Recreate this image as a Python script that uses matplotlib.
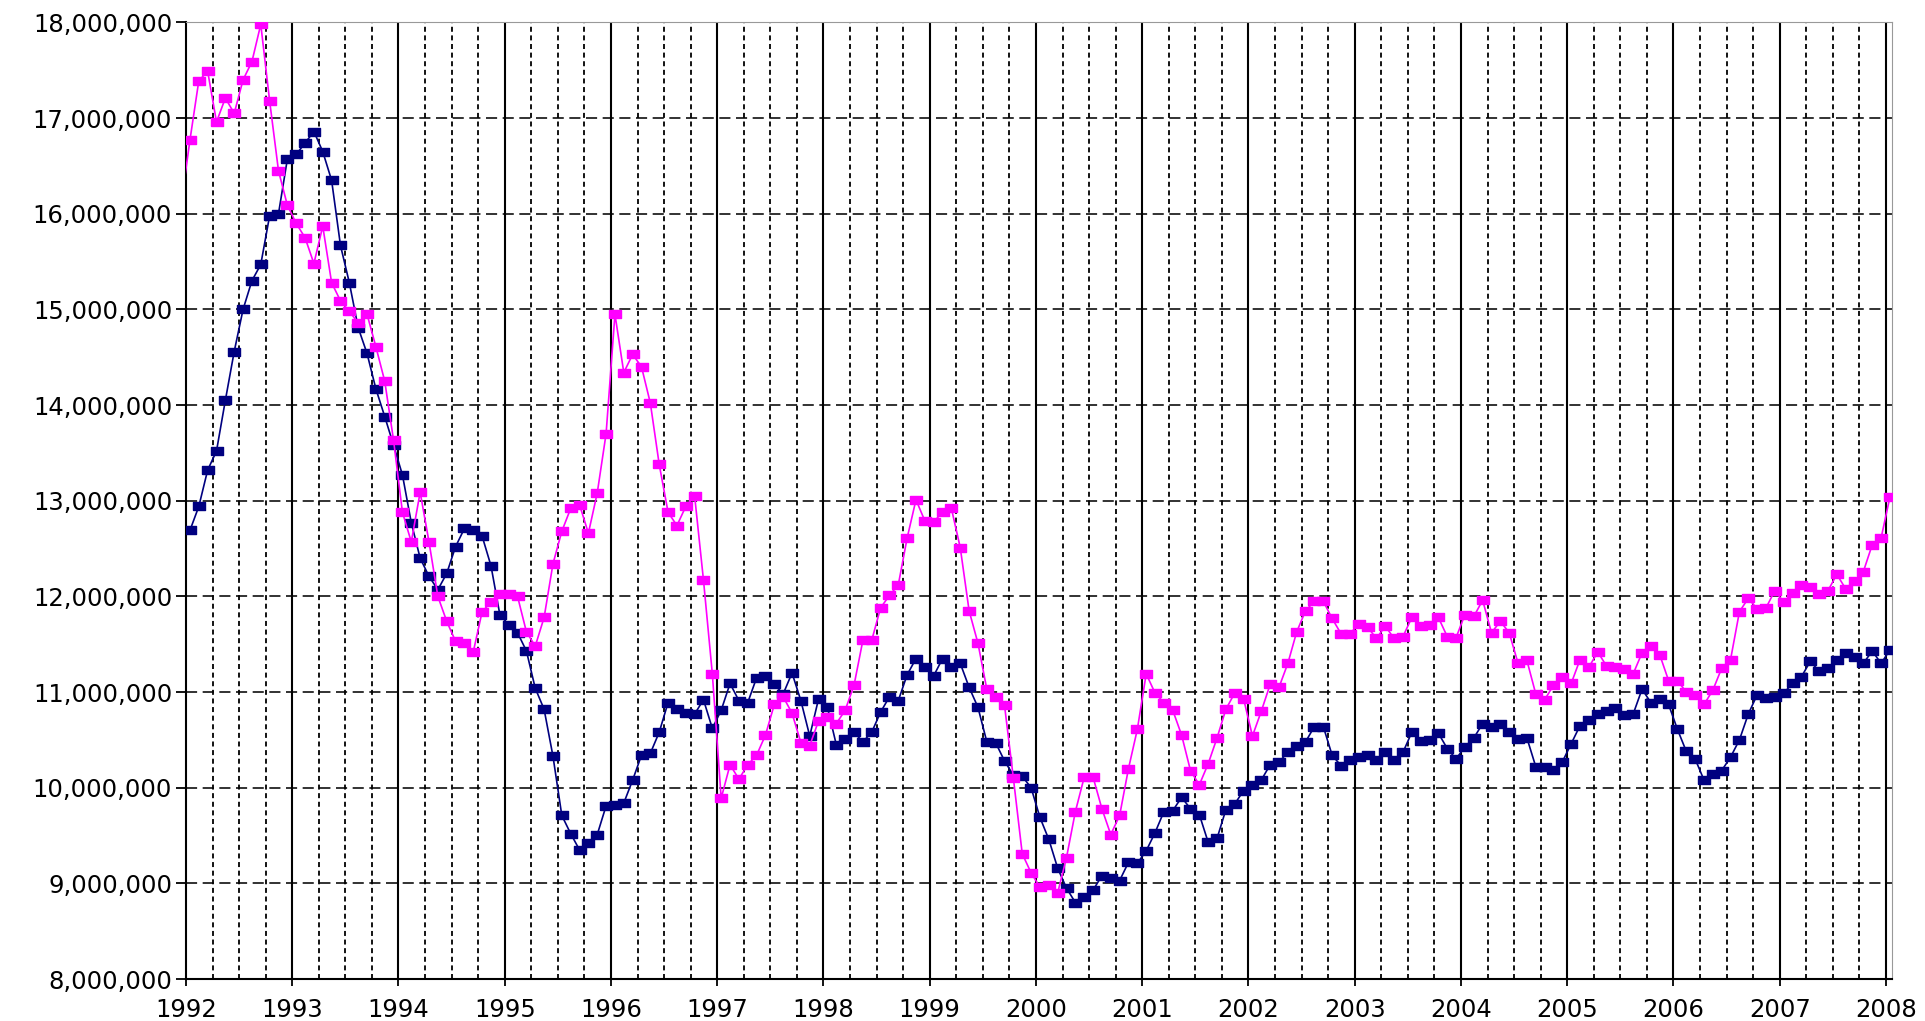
import matplotlib.pyplot as plt
import numpy as np

plt.rcParams["lines.scale_dashes"] = False

# monthly values in millions, Dec 1991 .. Jan 2008
navy_values = [
    12.62,
    12.69, 12.94, 13.32, 13.52, 14.05, 14.56, 15.00, 15.30, 15.47, 15.98, 16.00, 16.57,
    16.62, 16.74, 16.86, 16.65, 16.35, 15.67, 15.28, 14.81, 14.54, 14.17, 13.88, 13.58,
    13.27, 12.77, 12.40, 12.21, 12.07, 12.24, 12.52, 12.71, 12.69, 12.63, 12.32, 11.81,
    11.70, 11.62, 11.43, 11.04, 10.82, 10.33, 9.71, 9.52, 9.35, 9.42, 9.51, 9.81,
    9.82, 9.84, 10.08, 10.34, 10.36, 10.58, 10.89, 10.82, 10.78, 10.77, 10.92, 10.62,
    10.81, 11.09, 10.91, 10.89, 11.15, 11.17, 11.08, 10.98, 11.20, 10.91, 10.54, 10.93,
    10.84, 10.45, 10.51, 10.58, 10.48, 10.58, 10.79, 10.95, 10.91, 11.18, 11.35, 11.26,
    11.17, 11.35, 11.26, 11.30, 11.05, 10.84, 10.48, 10.47, 10.28, 10.13, 10.12, 10.00,
    9.69, 9.46, 9.16, 8.95, 8.80, 8.86, 8.93, 9.08, 9.06, 9.03, 9.22, 9.21,
    9.34, 9.53, 9.75, 9.76, 9.90, 9.78, 9.72, 9.43, 9.47, 9.77, 9.83, 9.97,
    10.03, 10.08, 10.24, 10.27, 10.37, 10.44, 10.48, 10.64, 10.64, 10.34, 10.23, 10.29,
    10.32, 10.34, 10.29, 10.37, 10.29, 10.37, 10.58, 10.49, 10.50, 10.57, 10.41, 10.30,
    10.43, 10.52, 10.67, 10.64, 10.67, 10.58, 10.51, 10.52, 10.22, 10.22, 10.19, 10.27,
    10.46, 10.65, 10.71, 10.77, 10.80, 10.83, 10.76, 10.77, 11.03, 10.89, 10.93, 10.87,
    10.61, 10.38, 10.30, 10.08, 10.14, 10.18, 10.32, 10.50, 10.77, 10.97, 10.94, 10.95,
    10.99, 11.09, 11.16, 11.32, 11.22, 11.25, 11.34, 11.41, 11.37, 11.30, 11.43, 11.30,
    11.44,
]

magenta_values = [
    16.10,
    16.77, 17.39, 17.49, 16.96, 17.21, 17.05, 17.40, 17.59, 17.98, 17.18, 16.45, 16.09,
    15.90, 15.75, 15.48, 15.87, 15.28, 15.09, 14.98, 14.86, 14.95, 14.61, 14.25, 13.63,
    12.88, 12.57, 13.09, 12.57, 12.00, 11.74, 11.53, 11.51, 11.42, 11.84, 11.94, 12.02,
    12.02, 12.00, 11.63, 11.48, 11.78, 12.34, 12.68, 12.92, 12.96, 12.66, 13.08, 13.70,
    14.95, 14.34, 14.53, 14.40, 14.02, 13.38, 12.88, 12.74, 12.94, 13.05, 12.17, 11.19,
    9.89, 10.24, 10.09, 10.24, 10.34, 10.55, 10.87, 10.95, 10.78, 10.47, 10.44, 10.70,
    10.74, 10.67, 10.81, 11.07, 11.54, 11.54, 11.88, 12.01, 12.12, 12.61, 13.01, 12.79,
    12.78, 12.88, 12.92, 12.51, 11.85, 11.51, 11.03, 10.95, 10.86, 10.10, 9.31, 9.11,
    8.96, 8.98, 8.90, 9.27, 9.75, 10.11, 10.11, 9.78, 9.51, 9.71, 10.20, 10.61,
    11.19, 10.99, 10.89, 10.81, 10.55, 10.18, 10.03, 10.25, 10.52, 10.82, 10.99, 10.93,
    10.54, 10.80, 11.08, 11.05, 11.30, 11.63, 11.85, 11.95, 11.95, 11.77, 11.61, 11.61,
    11.71, 11.68, 11.56, 11.69, 11.56, 11.58, 11.78, 11.69, 11.70, 11.78, 11.58, 11.57,
    11.81, 11.79, 11.96, 11.62, 11.74, 11.62, 11.30, 11.33, 10.98, 10.92, 11.07, 11.16,
    11.09, 11.34, 11.26, 11.42, 11.27, 11.26, 11.24, 11.19, 11.41, 11.48, 11.39, 11.12,
    11.12, 11.00, 10.97, 10.87, 11.02, 11.25, 11.34, 11.84, 11.98, 11.87, 11.88, 12.06,
    11.94, 12.04, 12.12, 12.10, 12.02, 12.06, 12.23, 12.08, 12.16, 12.26, 12.54, 12.61,
    13.04,
]

years = list(range(1992, 2009))
y_ticks = list(range(8000000, 18000001, 1000000))

# month index -1 is Dec 1991, points sit mid-month
months = np.arange(-1, len(navy_values) - 1)
x = 1992 + (months + 0.45) / 12

fig = plt.figure(figsize=(19.25, 10.21), dpi=100)
ax = fig.add_axes([0.0966, 0.0411, 0.8861, 0.9369])
ax.set_xlim(1992, 2008.054)
ax.set_ylim(8000000, 18000000)

# grid: dashed millions, solid years, dashed quarters
for v in y_ticks[1:-1]:
    ax.axhline(v, color="#222222", lw=1.3, dashes=(8, 4), zorder=1)
for yr in years[1:]:
    ax.axvline(yr, color="black", lw=1.5, zorder=1)
for yr in years[:-1]:
    for q in (0.25, 0.5, 0.75):
        ax.axvline(yr + q, color="black", lw=1.3, dashes=(3.6, 2.6), zorder=1)

rect = [(-1, -0.8), (1, -0.8), (1, 0.8), (-1, 0.8), (-1, -0.8)]
navy = np.array(navy_values) * 1e6
magenta = np.array(magenta_values) * 1e6
ax.plot(x, navy, color="#000080", lw=1.2, marker=rect, markersize=8,
        markevery=slice(1, None), zorder=3)
ax.plot(x, magenta, color="#FF00FF", lw=1.2, marker=rect, markersize=8,
        markevery=slice(1, None), zorder=4)

ax.set_xticks(years)
ax.set_xticklabels([str(y) for y in years])
ax.set_yticks(y_ticks)
ax.set_yticklabels(["{:,}".format(v) for v in y_ticks])
ax.tick_params(axis="x", direction="out", length=5, width=1.3, pad=9, labelsize=17.5)
ax.tick_params(axis="y", direction="out", length=7, width=1.3, pad=3, labelsize=17.5)

ax.spines["left"].set_linewidth(1.5)
ax.spines["bottom"].set_linewidth(1.5)
ax.spines["top"].set_color("#999999")
ax.spines["right"].set_color("#999999")

plt.savefig("out.png", dpi=100)
